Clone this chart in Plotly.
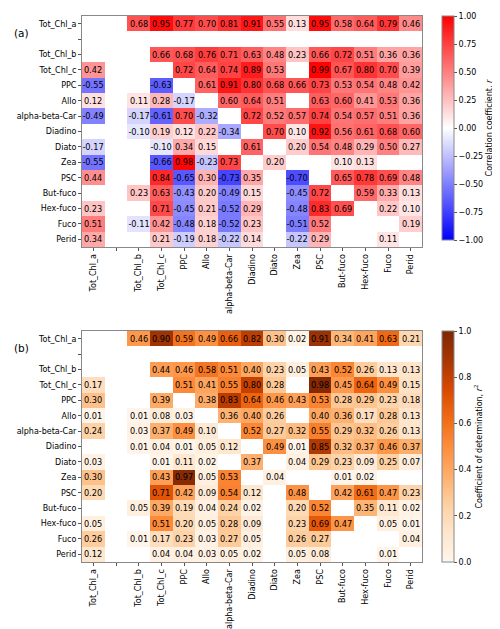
import plotly.graph_objects as go

labels = ["Tot_Chl_a", "", "Tot_Chl_b", "Tot_Chl_c", "PPC", "Allo", "alpha-beta-Car",
          "Diadino", "Diato", "Zea", "PSC", "But-fuco", "Hex-fuco", "Fuco", "Perid"]
N = None

r_vals = [
    [N, N, 0.68, 0.95, 0.77, 0.70, 0.81, 0.91, 0.55, 0.13, 0.95, 0.58, 0.64, 0.79, 0.46],
    [N, N, N, N, N, N, N, N, N, N, N, N, N, N, N],
    [N, N, N, 0.66, 0.68, 0.76, 0.71, 0.63, 0.48, 0.23, 0.66, 0.72, 0.51, 0.36, 0.36],
    [0.42, N, N, N, 0.72, 0.64, 0.74, 0.89, 0.53, N, 0.99, 0.67, 0.80, 0.70, 0.39],
    [-0.55, N, N, -0.63, N, 0.61, 0.91, 0.80, 0.68, 0.66, 0.73, 0.53, 0.54, 0.48, 0.42],
    [0.12, N, 0.11, 0.28, -0.17, N, 0.60, 0.64, 0.51, N, 0.63, 0.60, 0.41, 0.53, 0.36],
    [-0.49, N, -0.17, -0.61, 0.70, -0.32, N, 0.72, 0.52, 0.57, 0.74, 0.54, 0.57, 0.51, 0.36],
    [N, N, -0.10, 0.19, 0.12, 0.22, -0.34, N, 0.70, 0.10, 0.92, 0.56, 0.61, 0.68, 0.60],
    [-0.17, N, N, -0.10, 0.34, 0.15, N, 0.61, N, 0.20, 0.54, 0.48, 0.29, 0.50, 0.27],
    [-0.55, N, N, -0.66, 0.98, -0.23, 0.73, N, 0.20, N, N, 0.10, 0.13, N, N],
    [0.44, N, N, 0.84, -0.65, 0.30, -0.73, 0.35, N, -0.70, N, 0.65, 0.78, 0.69, 0.48],
    [N, N, 0.23, 0.63, -0.43, 0.20, -0.49, 0.15, N, -0.45, 0.72, N, 0.59, 0.33, 0.13],
    [0.23, N, N, 0.71, -0.45, 0.21, -0.52, 0.29, N, -0.48, 0.83, 0.69, N, 0.22, 0.10],
    [0.51, N, -0.11, 0.42, -0.48, 0.18, -0.52, 0.23, N, -0.51, 0.52, N, N, N, 0.19],
    [0.34, N, N, 0.21, -0.19, 0.18, -0.22, 0.14, N, -0.22, 0.29, N, N, 0.11, N],
]

r2_vals = [
    [N, N, 0.46, 0.90, 0.59, 0.49, 0.66, 0.82, 0.30, 0.02, 0.91, 0.34, 0.41, 0.63, 0.21],
    [N, N, N, N, N, N, N, N, N, N, N, N, N, N, N],
    [N, N, N, 0.44, 0.46, 0.58, 0.51, 0.40, 0.23, 0.05, 0.43, 0.52, 0.26, 0.13, 0.13],
    [0.17, N, N, N, 0.51, 0.41, 0.55, 0.80, 0.28, N, 0.98, 0.45, 0.64, 0.49, 0.15],
    [0.30, N, N, 0.39, N, 0.38, 0.83, 0.64, 0.46, 0.43, 0.53, 0.28, 0.29, 0.23, 0.18],
    [0.01, N, 0.01, 0.08, 0.03, N, 0.36, 0.40, 0.26, N, 0.40, 0.36, 0.17, 0.28, 0.13],
    [0.24, N, 0.03, 0.37, 0.49, 0.10, N, 0.52, 0.27, 0.32, 0.55, 0.29, 0.32, 0.26, 0.13],
    [N, N, 0.01, 0.04, 0.01, 0.05, 0.12, N, 0.49, 0.01, 0.85, 0.32, 0.37, 0.46, 0.37],
    [0.03, N, N, 0.01, 0.11, 0.02, N, 0.37, N, 0.04, 0.29, 0.23, 0.09, 0.25, 0.07],
    [0.30, N, N, 0.43, 0.97, 0.05, 0.53, N, 0.04, N, N, 0.01, 0.02, N, N],
    [0.20, N, N, 0.71, 0.42, 0.09, 0.54, 0.12, N, 0.48, N, 0.42, 0.61, 0.47, 0.23],
    [N, N, 0.05, 0.39, 0.19, 0.04, 0.24, 0.02, N, 0.20, 0.52, N, 0.35, 0.11, 0.02],
    [0.05, N, N, 0.51, 0.20, 0.05, 0.28, 0.09, N, 0.23, 0.69, 0.47, N, 0.05, 0.01],
    [0.26, N, 0.01, 0.17, 0.23, 0.03, 0.27, 0.05, N, 0.26, 0.27, N, N, N, 0.04],
    [0.12, N, N, 0.04, 0.04, 0.03, 0.05, 0.02, N, 0.05, 0.08, N, N, 0.01, N],
]

r_ticks = [-1.0, -0.75, -0.5, -0.25, 0.0, 0.25, 0.5, 0.75, 1.0]
r2_ticks = [0.0, 0.2, 0.4, 0.6, 0.8, 1.0]

W, H = 500, 629
FONT = "DejaVu Sans"
FS = 8
idx = list(range(len(labels)))
lab_idx = [i for i, l in enumerate(labels) if l]
lab_txt = [l for l in labels if l]
gap_idx = [i for i, l in enumerate(labels) if not l]

bwr = [[0, "rgb(0,0,255)"], [0.5, "rgb(255,255,255)"], [1, "rgb(255,0,0)"]]
oranges = [[0.0, "#fff5eb"], [0.125, "#fee6ce"], [0.25, "#fdd0a2"], [0.375, "#fdae6b"],
           [0.5, "#fd8d3c"], [0.625, "#f16913"], [0.75, "#d94801"], [0.875, "#a63603"],
           [1.0, "#7f2704"]]


def txt(mat):
    return [["" if v is None else f"{v:.2f}" for v in row] for row in mat]


def py(p):
    return 1 - p / H


def cbar(top, length, ticks, fmt, title):
    return dict(x=434 / W, xanchor="left", xpad=0, y=py(top), yanchor="top", ypad=0,
                len=length / H, lenmode="fraction", thickness=12,
                outlinewidth=1, outlinecolor="#888",
                tickvals=ticks, ticktext=[fmt(t) for t in ticks],
                ticks="outside", ticklen=3, tickcolor="#555",
                tickfont=dict(family=FONT, size=FS, color="black"),
                title=dict(text=title, side="right", font=dict(family=FONT, size=FS, color="black")))


fig = go.Figure()
fig.add_trace(go.Heatmap(
    z=r_vals, x=idx, y=idx, text=txt(r_vals), texttemplate="%{text}",
    textfont=dict(family=FONT, size=8.2, color="black"),
    colorscale=bwr, zmin=-1, zmax=1, xaxis="x", yaxis="y", hoverongaps=False,
    colorbar=cbar(8, 224, r_ticks, lambda t: f"{t:.2f}".replace("-", "\u2212"),
                  "Correlation coefficient, <i>r</i>"),
))
fig.add_trace(go.Heatmap(
    z=r2_vals, x=idx, y=idx, text=txt(r2_vals), texttemplate="%{text}",
    textfont=dict(family=FONT, size=8.2, color="black"),
    colorscale=oranges, zmin=0, zmax=1, xaxis="x2", yaxis="y2", hoverongaps=False,
    colorbar=cbar(323, 231, r2_ticks, lambda t: f"{t:.1f}",
                  "Coefficient of determination, <i>r</i><sup>2</sup>"),
))

axcommon = dict(tickmode="array", tickvals=lab_idx, ticktext=lab_txt, showgrid=False, zeroline=False,
                showline=True, mirror=True, linecolor="#888", linewidth=1,
                ticks="outside", ticklen=3, tickcolor="#555",
                minor=dict(tickmode="array", tickvals=gap_idx, ticks="outside", ticklen=3,
                           tickcolor="#555", showgrid=False),
                tickfont=dict(family=FONT, size=FS, color="black"))

xdom = [74 / W, 414 / W]
fig.update_layout(
    width=W, height=H, margin=dict(l=0, r=0, t=0, b=0),
    paper_bgcolor="white", plot_bgcolor="white",
    xaxis=dict(domain=xdom, anchor="y", range=[-0.5, 14.5], tickangle=-90, **axcommon),
    yaxis=dict(domain=[py(239), py(8)], anchor="x", range=[14.5, -0.5], **axcommon),
    xaxis2=dict(domain=xdom, anchor="y2", range=[-0.5, 14.5], tickangle=-90, **axcommon),
    yaxis2=dict(domain=[py(554), py(323)], anchor="x2", range=[14.5, -0.5], **axcommon),
    annotations=[
        dict(text="(a)", x=4 / W, y=py(25), xref="paper", yref="paper", xanchor="left",
             yanchor="middle", showarrow=False, font=dict(family=FONT, size=10.5, color="black")),
        dict(text="(b)", x=4 / W, y=py(340), xref="paper", yref="paper", xanchor="left",
             yanchor="middle", showarrow=False, font=dict(family=FONT, size=10.5, color="black")),
    ],
)

fig.write_html("out.html")
